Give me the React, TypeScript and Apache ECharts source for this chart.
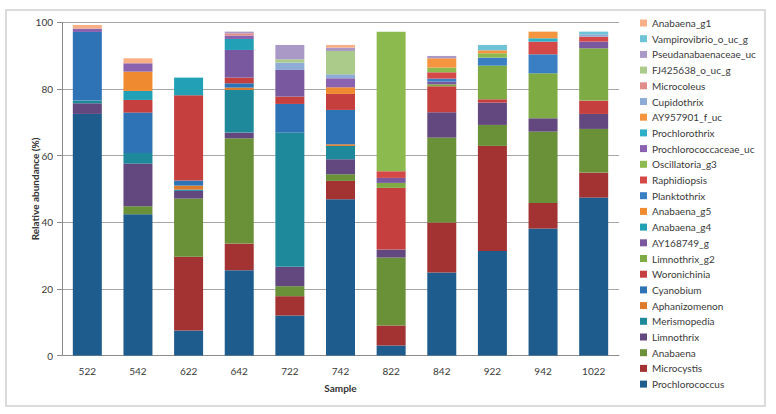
import React, { useEffect, useRef } from "react";
import * as echarts from "echarts";

const samples = ["522", "542", "622", "642", "722", "742", "822", "842", "922", "942", "1022"];
const yTicks = [0, 20, 40, 60, 80, 100];

// Series listed bottom-to-top of the stack
const seriesNames = [
  "Prochlorococcus", "Microcystis", "Anabaena", "Limnothrix", "Merismopedia", "Aphanizomenon",
  "Cyanobium", "Woronichinia", "Limnothrix_g2", "AY168749_g", "Anabaena_g4", "Anabaena_g5",
  "Planktothrix", "Raphidiopsis", "Oscillatoria_g3", "Prochlorococcaceae_uc", "Prochlorothrix",
  "AY957901_f_uc", "Cupidothrix", "Microcoleus", "FJ425638_o_uc_g", "Pseudanabaenaceae_uc",
  "Vampirovibrio_o_uc_g", "Anabaena_g1",
];

const seriesColors = [
  "#1f5c8e", "#a33232", "#6a9138", "#63477f", "#1d899b", "#dd7a2c",
  "#2d73b5", "#c63f3f", "#7fab45", "#7a58a0", "#22a0b6", "#f08a30",
  "#3a7fc4", "#d44848", "#8dba4f", "#8a62b0", "#2cb0c8",
  "#f5953f", "#8eacd6", "#e08c8a", "#aacb8a", "#aa98c6",
  "#6ec3d6", "#f8af86",
];

const Prochlorococcus = [72.5, 42.4, 7.5, 25.6, 12.0, 46.9, 3.0, 24.9, 31.4, 38.1, 47.4];
const Microcystis = [0, 0, 22.1, 8.0, 5.8, 5.5, 6.0, 15.0, 31.5, 7.7, 7.5];
const Anabaena = [0, 2.4, 17.5, 31.6, 3.0, 2.0, 20.4, 25.5, 6.3, 21.4, 13.1];
const Limnothrix = [3.2, 12.8, 2.3, 1.7, 5.8, 4.5, 2.4, 7.6, 6.7, 4.0, 4.5];
const Merismopedia = [0.8, 3.2, 0.4, 12.8, 40.3, 4.0, 0, 0, 0, 0, 0];
const Aphanizomenon = [0, 0, 1.2, 0.7, 0, 0.5, 0, 0, 0, 0, 0];
const Cyanobium = [20.6, 12.1, 1.5, 1.3, 8.6, 10.3, 0, 0, 0, 0, 0];
const Woronichinia = [0, 3.8, 25.6, 1.7, 2.2, 4.8, 18.5, 7.8, 1.0, 0, 4.0];
const Limnothrix_g2 = [0, 0, 0, 0, 0, 0, 1.5, 0.6, 10.1, 13.5, 15.7];
const AY168749_g = [0, 0, 0, 8.3, 8.0, 0, 1.5, 0.8, 0, 0, 2.0];
const Anabaena_g4 = [0, 2.7, 5.3, 3.3, 0, 0, 0, 0, 0, 0, 0];
const Anabaena_g5 = [0, 5.8, 0, 0, 0, 2.0, 0, 0, 0, 0, 0];
const Planktothrix = [0, 0, 0, 0, 0, 0, 0, 0.9, 2.4, 5.7, 0];
const Raphidiopsis = [0, 0, 0, 0, 0, 0, 2.0, 1.9, 0, 3.8, 1.5];
const Oscillatoria_g3 = [0, 0, 0, 0, 0, 0, 41.9, 1.4, 1.3, 0, 0];
const Prochlorococcaceae_uc = [1.0, 2.5, 0, 1.0, 0, 2.7, 0, 0, 0, 0, 0];
const Prochlorothrix = [0, 0, 0, 0, 0, 0, 0, 0, 0, 1.0, 0];
const AY957901_f_uc = [0, 0, 0, 0, 0, 0, 0, 2.8, 0.9, 2.0, 0];
const Cupidothrix = [0, 0, 0, 0, 2.2, 1.2, 0, 0, 0, 0, 0.7];
const Microcoleus = [0, 0, 0, 0.7, 0, 0, 0, 0, 0, 0, 0];
const FJ425638_o_uc_g = [0, 0, 0, 0, 1.0, 7.0, 0, 0, 0, 0, 0];
const Pseudanabaenaceae_uc = [0, 0, 0, 0.5, 4.3, 1.0, 0, 0.7, 0, 0, 0];
const Vampirovibrio_o_uc_g = [0, 0, 0, 0, 0, 0, 0, 0, 1.6, 0, 0.8];
const Anabaena_g1 = [1.1, 1.5, 0, 0, 0, 0.8, 0, 0, 0, 0, 0];

const seriesValues = [
  Prochlorococcus, Microcystis, Anabaena, Limnothrix, Merismopedia, Aphanizomenon,
  Cyanobium, Woronichinia, Limnothrix_g2, AY168749_g, Anabaena_g4, Anabaena_g5,
  Planktothrix, Raphidiopsis, Oscillatoria_g3, Prochlorococcaceae_uc, Prochlorothrix,
  AY957901_f_uc, Cupidothrix, Microcoleus, FJ425638_o_uc_g, Pseudanabaenaceae_uc,
  Vampirovibrio_o_uc_g, Anabaena_g1,
];

const FONT = "Lato, 'Open Sans', sans-serif";

export default function App() {
  const ref = useRef<HTMLDivElement>(null);
  useEffect(() => {
    document.body.style.margin = "0";
    if (!ref.current) return;
    const chart = echarts.init(ref.current, null, { renderer: "svg" });
    chart.setOption({
      animation: false,
      backgroundColor: "#ffffff",
      graphic: [
        {
          type: "rect",
          shape: { x: 6, y: 10, width: 759, height: 396 },
          style: { fill: "none", stroke: "#cfcfcf", lineWidth: 1.5 },
          silent: true,
        },
      ],
      grid: { left: 62, right: 157, top: 22.3, bottom: 58.5 },
      legend: {
        orient: "vertical",
        left: 635,
        top: 12,
        itemWidth: 7,
        itemHeight: 7,
        itemGap: 3.7,
        icon: "rect",
        data: [...seriesNames].reverse(),
        textStyle: { fontFamily: FONT, fontSize: 10, color: "#3a3a3a", lineHeight: 12 },
      },
      xAxis: {
        type: "category",
        data: samples,
        name: "Sample",
        nameLocation: "middle",
        nameGap: 27,
        nameMoveOverlap: false,
        nameTextStyle: { fontFamily: FONT, fontSize: 10, fontWeight: "bold", color: "#333" },
        axisLine: { lineStyle: { color: "#8c8c8c" } },
        axisTick: { show: false },
        axisLabel: { fontFamily: FONT, fontSize: 10, color: "#3a3a3a", margin: 10 },
      },
      yAxis: {
        type: "value",
        min: 0,
        max: 100,
        interval: 20,
        name: "Relative abundance (%)",
        nameLocation: "middle",
        nameGap: 22,
        nameMoveOverlap: false,
        nameTextStyle: { fontFamily: FONT, fontSize: 10, fontWeight: "bold", color: "#333" },
        axisLine: { show: true, lineStyle: { color: "#8c8c8c" } },
        axisTick: { show: true, length: 5, lineStyle: { color: "#8c8c8c" } },
        axisLabel: {
          fontFamily: FONT,
          fontSize: 10,
          color: "#3a3a3a",
          margin: 9,
          formatter: (v: number) => (yTicks.includes(v) ? String(v) : ""),
        },
        splitLine: { lineStyle: { color: "#a6a6a6" } },
      },
      series: seriesNames.map((name, i) => ({
        name,
        type: "bar",
        stack: "total",
        barWidth: 29,
        data: seriesValues[i],
        itemStyle: { color: seriesColors[i] },
      })),
    });
    return () => chart.dispose();
  }, []);
  return <div ref={ref} style={{ width: 776, height: 414 }} />;
}
